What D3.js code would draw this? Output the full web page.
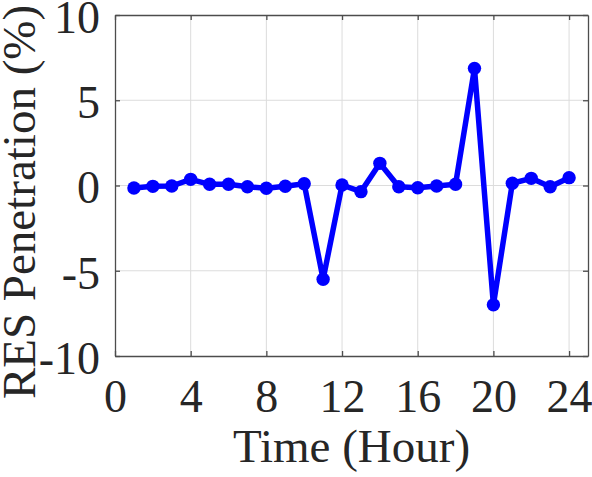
<!DOCTYPE html>
<html lang="en">
<head>
    <meta charset="UTF-8">
    <title>RES Penetration</title>
    <script src="https://d3js.org/d3.v7.min.js"></script>
    <style>
        body { margin: 0; background: #fff; }
        text { font-family: "Liberation Serif", "Times New Roman", serif; fill: #262626; }
    </style>
</head>
<body>
    <svg id="chart" width="592" height="477"></svg>
    <script>
        // Hours and RES penetration (%)
        const hours = [1, 2, 3, 4, 5, 6, 7, 8, 9, 10, 11, 12, 13, 14, 15, 16, 17, 18, 19, 20, 21, 22, 23, 24];
        const penetration = [-0.15, -0.05, -0.03, 0.36, 0.07, 0.07, -0.07, -0.16, -0.04, 0.1, -5.5, 0.03, -0.36, 1.3, -0.07, -0.13, -0.03, 0.07, 6.87, -7.0, 0.13, 0.42, -0.07, 0.46];
        const xTicks = [0, 4, 8, 12, 16, 20, 24];
        const yTicks = [-10, -5, 0, 5, 10];

        const svg = d3.select('#chart');
        const plotLeft = 115, plotRight = 588, plotTop = 15, plotBottom = 356;

        const x = d3.scaleLinear().domain([0, 25]).range([plotLeft, plotRight]);
        const y = d3.scaleLinear().domain([-10, 10]).range([plotBottom, plotTop]);

        // Grid lines
        const grid = svg.append('g').attr('stroke', '#dcdcdc').attr('stroke-width', 1);
        grid.selectAll('.gx').data(xTicks.filter(d => d > 0)).enter().append('line')
            .attr('x1', d => x(d)).attr('x2', d => x(d))
            .attr('y1', plotTop).attr('y2', plotBottom);
        grid.selectAll('.gy').data(yTicks.filter(d => d > -10 && d < 10)).enter().append('line')
            .attr('x1', plotLeft).attr('x2', plotRight)
            .attr('y1', d => y(d)).attr('y2', d => y(d));

        // Axes (box with ticks on all sides, ticks pointing inward)
        const axisColor = '#4d4d4d';
        const xb = svg.append('g').attr('transform', `translate(0,${plotBottom})`)
            .call(d3.axisBottom(x).tickValues(xTicks).tickSizeInner(-5).tickSizeOuter(0));
        const xt = svg.append('g').attr('transform', `translate(0,${plotTop})`)
            .call(d3.axisTop(x).tickValues(xTicks).tickSizeInner(-5).tickSizeOuter(0).tickFormat(''));
        const yl = svg.append('g').attr('transform', `translate(${plotLeft},0)`)
            .call(d3.axisLeft(y).tickValues(yTicks).tickSizeInner(-5).tickSizeOuter(0).tickPadding(15)
                .tickFormat(d => String(d)));  // plain hyphen, like the original
        const yr = svg.append('g').attr('transform', `translate(${plotRight},0)`)
            .call(d3.axisRight(y).tickValues(yTicks).tickSizeInner(-5).tickSizeOuter(0).tickFormat(''));

        [xb, xt, yl, yr].forEach(a => {
            a.select('.domain').attr('stroke', axisColor).attr('stroke-width', 1.3);
            a.selectAll('line').attr('stroke', axisColor).attr('stroke-width', 1.3);
            a.selectAll('text')
                .attr('font-family', '"Liberation Serif", "Times New Roman", serif')
                .attr('font-size', 46)
                .attr('fill', '#262626');
        });
        xb.selectAll('text').attr('y', 56).attr('dy', 0);
        yl.selectAll('text').attr('dy', '0.38em');

        // Data line and markers
        const data = hours.map((h, i) => ({ h: h, v: penetration[i] }));
        const line = d3.line().x(d => x(d.h)).y(d => y(d.v));

        svg.append('path')
            .datum(data)
            .attr('fill', 'none')
            .attr('stroke', '#0000ff')
            .attr('stroke-width', 5.5)
            .attr('stroke-linejoin', 'round')
            .attr('d', line);

        svg.selectAll('.pt').data(data).enter().append('circle')
            .attr('cx', d => x(d.h))
            .attr('cy', d => y(d.v))
            .attr('r', 6.7)
            .attr('fill', '#0000ff');

        // Axis titles
        svg.append('text')
            .attr('x', (plotLeft + plotRight) / 2)
            .attr('y', 462)
            .attr('text-anchor', 'middle')
            .attr('font-size', 47)
            .text('Time (Hour)');

        svg.append('text')
            .attr('transform', 'translate(35,202) rotate(-90)')
            .attr('text-anchor', 'middle')
            .attr('font-size', 47)
            .text('RES Penetration (%)');
    </script>
</body>
</html>
